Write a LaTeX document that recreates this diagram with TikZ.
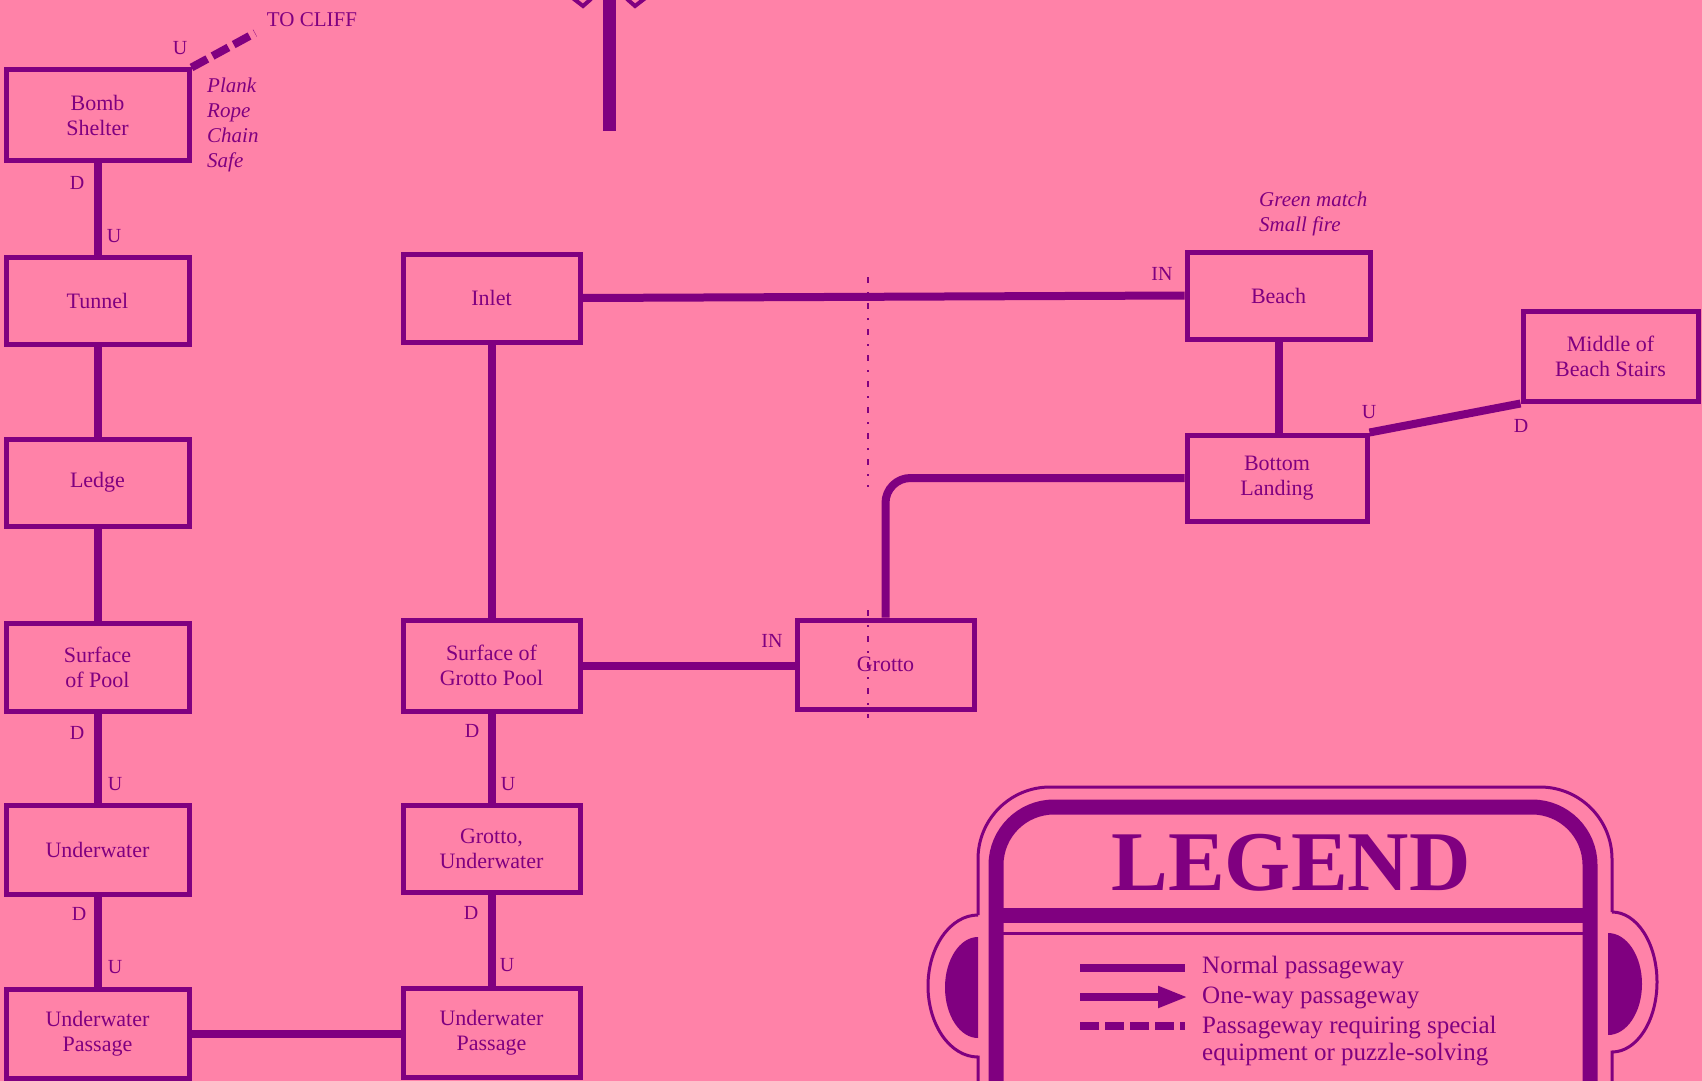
\documentclass[tikz,border=0pt]{standalone}
\usepackage{fontspec}
\setmainfont{Liberation Serif}
\usetikzlibrary{arrows.meta}
\definecolor{bgpink}{RGB}{255,130,168}
\definecolor{ink}{RGB}{128,0,128}
\begin{document}
\begin{tikzpicture}[x=1pt,y=-1pt,
  every node/.style={text=ink},
  room/.style={draw=ink, line width=5pt, rectangle, inner sep=0pt, align=center,
    font=\fontsize{22}{25}\selectfont},
  leftcol/.style={room, minimum width=183pt, minimum height=89pt},
  midcol/.style={room, minimum width=177pt, minimum height=89pt},
  pass/.style={draw=ink, line width=8pt},
  special/.style={draw=ink, line width=8pt, dash pattern=on 18pt off 6pt},
  dirlab/.style={font=\fontsize{20}{24}\selectfont, inner sep=0pt},
  note/.style={font=\fontsize{21}{25}\selectfont\itshape, align=left, inner sep=0pt, anchor=west},
  legtext/.style={font=\fontsize{25}{28}\selectfont, inner sep=0pt, anchor=base west},
  thinline/.style={draw=ink, line width=3pt},
  thickframe/.style={draw=ink, line width=15pt}]
\fill[bgpink] (0,0) rectangle (1702,1081);
\useasboundingbox (0,0) rectangle (1702,1081);
\clip (0,0) rectangle (1702,1081);

% left column
\node[leftcol, minimum height=90pt] (bomb) at (97.5,115) {Bomb\\Shelter};
\node[leftcol, minimum height=87pt] (tunnel) at (97.5,300.5) {Tunnel};
\node[leftcol, minimum height=87pt] (ledge) at (97.5,482.5) {Ledge};
\node[leftcol, minimum height=88pt] (sop) at (97.5,667) {Surface\\of Pool};
\node[leftcol] (uw) at (97.5,849.5) {Underwater};
\node[leftcol] (uwp1) at (97.5,1033.5) {Underwater\\Passage};

% second column
\node[midcol, minimum height=88pt] (inlet) at (491.5,298) {Inlet};
\node[midcol, minimum height=91pt] (sogp) at (491.5,665.5) {Surface of\\Grotto Pool};
\node[midcol, minimum height=87pt] (gu) at (491.5,848.5) {Grotto,\\Underwater};
\node[midcol] (uwp2) at (491.5,1032.5) {Underwater\\Passage};

% right part
\node[midcol] (grotto) at (885.5,664.5) {Grotto};
\node[room, minimum width=183pt, minimum height=87pt] (beach) at (1278.5,295.5) {Beach};
\node[room, minimum width=180pt, minimum height=86pt] (bottom) at (1277,478) {Bottom\\Landing};
\node[room, minimum width=175pt, minimum height=90pt] (middle) at (1610.5,356) {Middle of\\Beach Stairs};

% connectors
\draw[pass] (bomb.south) -- (tunnel.north);
\draw[pass] (tunnel.south) -- (ledge.north);
\draw[pass] (ledge.south) -- (sop.north);
\draw[pass] (sop.south) -- (uw.north);
\draw[pass] (uw.south) -- (uwp1.north);
\draw[pass] (uwp1.east) -- (uwp1.east -| uwp2.west);
\draw[pass] (inlet.south) -- (sogp.north);
\draw[pass] (sogp.south) -- (gu.north);
\draw[pass] (gu.south) -- (uwp2.north);
\draw[pass] (sogp.east) -- (sogp.east -| grotto.west);
\draw[pass] (inlet.east) -- (beach.west);
\draw[pass] (beach.south) -- (beach.south |- bottom.north);
\draw[pass, rounded corners=25pt] (grotto.north) |- (bottom.west);
\draw[pass] (bottom.north east) -- (middle.south west);
\coordinate (cliff) at (255,33);
\draw[special] (bomb.north east) -- (cliff);

% top centre arrow (cut off)
\coordinate (arrtop) at (609,-5);
\coordinate (arrbot) at (609,131);
\draw[draw=ink, line width=13pt] (arrtop) -- (arrbot);
\draw[draw=ink, line width=4pt] (570,-4) -- (583,6) -- (591,-1);
\draw[draw=ink, line width=4pt] (648,-4) -- (635,6) -- (627,-1);

% faint fold line
\draw[draw=ink, line width=1.5pt, dash pattern=on 6pt off 9pt on 2pt off 9pt] (868,277) -- (868,487);
\draw[draw=ink, line width=1.5pt, dash pattern=on 6pt off 9pt on 2pt off 9pt] (868,610) -- (868,718);

% labels
\node[font=\fontsize{21}{24}\selectfont, inner sep=0pt] (tocliff) at (312,20) {TO CLIFF};
\node[dirlab] at (180,48) {U};
\node[note] (items) at (207,125) {Plank\\Rope\\Chain\\Safe};
\node[note] (beachnote) at (1259,214) {Green match\\Small fire};
\node[dirlab] at (77,183) {D};
\node[dirlab] at (114,236) {U};
\node[dirlab] at (77,733) {D};
\node[dirlab] at (115,784) {U};
\node[dirlab] at (79,914) {D};
\node[dirlab] at (115,967) {U};
\node[dirlab] at (472,731) {D};
\node[dirlab] at (508,784) {U};
\node[dirlab] at (471,913) {D};
\node[dirlab] at (507,965) {U};
\node[dirlab] at (1162,274) {IN};
\node[dirlab] at (772,641) {IN};
\node[dirlab] at (1369,412) {U};
\node[dirlab] at (1521,426) {D};

% legend frame
\draw[thinline, rounded corners=72pt] (978,915) -- (978,787) -- (1612,787) -- (1612,912);
\draw[thinline] (978,915) .. controls (950.4,915) and (928,946.8) .. (928,986)
  .. controls (928,1025.2) and (950.4,1057) .. (978,1057) -- (978,1095);
\draw[thinline] (1612,912) .. controls (1636.9,912) and (1657,943.3) .. (1657,982)
  .. controls (1657,1020.7) and (1636.9,1052) .. (1612,1052) -- (1612,1095);
\fill[ink] (978,937) .. controls (959.8,937) and (945,959.6) .. (945,987.5)
  .. controls (945,1015.4) and (959.8,1038) .. (978,1038) -- cycle;
\fill[ink] (1608,933) .. controls (1626.8,933) and (1642,955.8) .. (1642,984)
  .. controls (1642,1012.2) and (1626.8,1035) .. (1608,1035) -- cycle;
\draw[thickframe, rounded corners=58pt] (996,1100) -- (996,807) -- (1590,807) -- (1590,1100);
\draw[thickframe] (996,915) -- (1590,915);
\draw[thinline] (996,933) -- (1590,933);
\node[font=\fontsize{85}{92}\selectfont\bfseries, inner sep=0pt, anchor=base] (legend) at (1291,890) {LEGEND};

% legend items
\draw[pass] (1080,968) -- (1185,968);
\draw[pass, -{Triangle[length=30pt,width=20pt]}] (1080,997) -- (1188,997);
\draw[draw=ink, line width=8pt, dash pattern=on 19pt off 6pt] (1080,1026) -- (1185,1026);
\node[legtext] at (1202,973) {Normal passageway};
\node[legtext] at (1202,1003) {One-way passageway};
\node[legtext] at (1202,1033) {Passageway requiring special};
\node[legtext] at (1202,1060) {equipment or puzzle-solving};
\end{tikzpicture}
\end{document}
